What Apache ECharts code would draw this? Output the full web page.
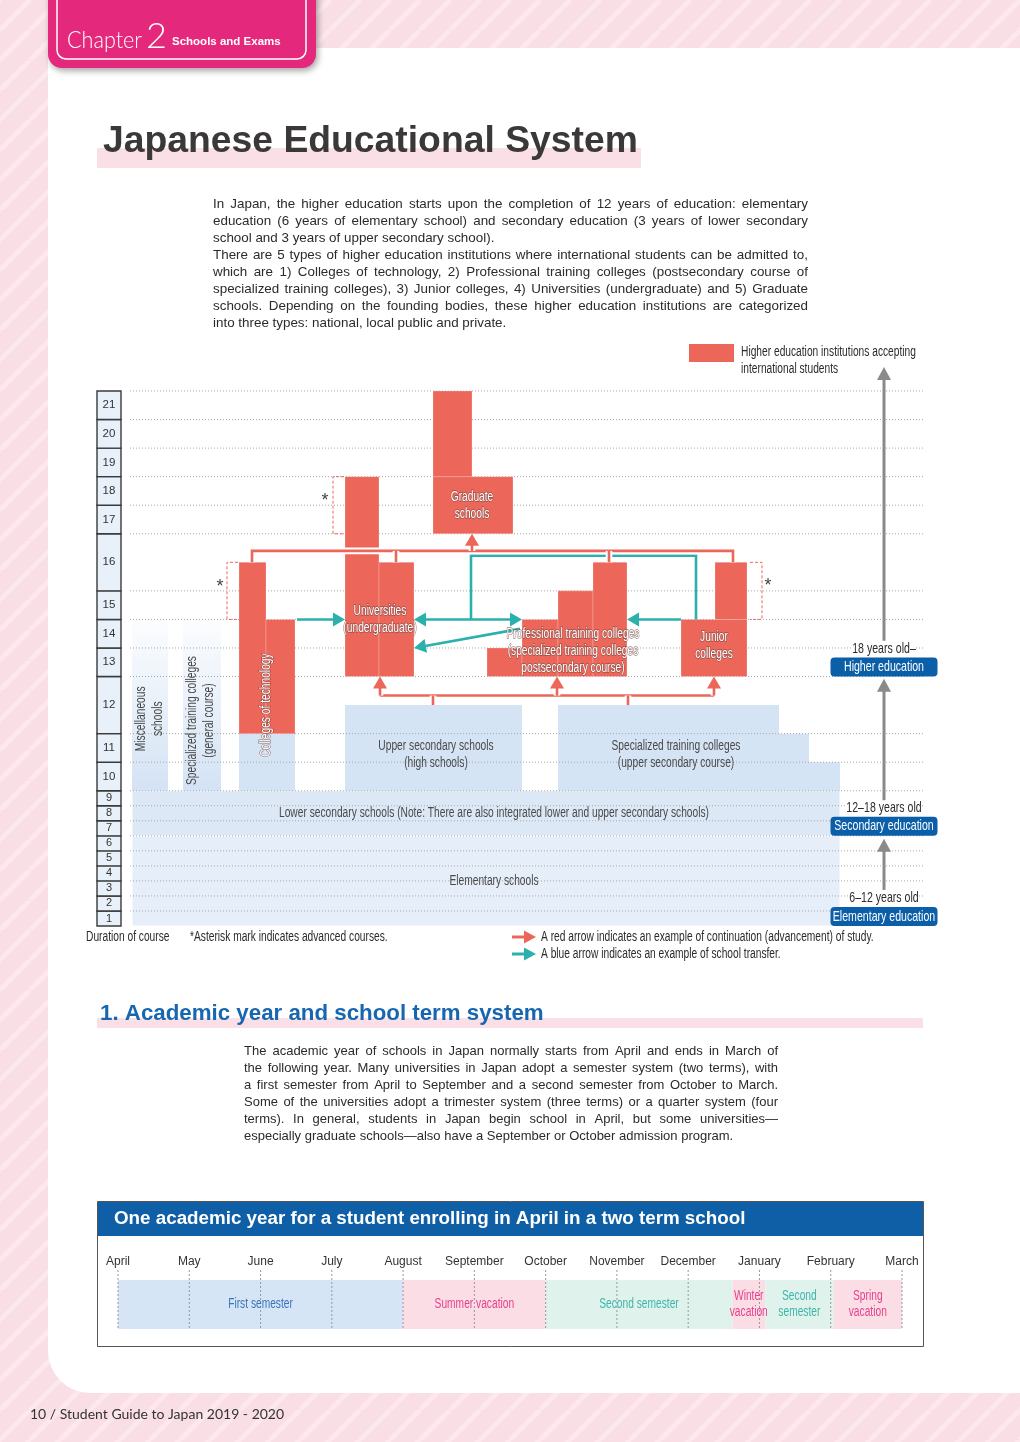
<!DOCTYPE html>
<html><head><meta charset="utf-8">
<script src="https://cdn.jsdelivr.net/npm/echarts@6/dist/echarts.min.js"></script>
<style>html,body{margin:0;padding:0;background:#fff}#c{width:1020px;height:1442px}</style>
</head><body><div id="c"></div>
<script>
// ================= DATA =================
const grades = [1,2,3,4,5,6,7,8,9,10,11,12,13,14,15,16,17,18,19,20,21];

// general schools (light blue)
const blueNames = ['Elementary schools','Lower secondary schools','Upper secondary schools',
  'Specialized training colleges (upper secondary course)','Specialized training colleges (upper secondary course)',
  'Specialized training colleges (upper secondary course)','Colleges of technology','Miscellaneous schools',
  'Specialized training colleges (general course)'];
const blueFirstYear = [1,7,10,10,10,10,10,10,10];
const blueLastYear  = [6,9,12,12,11,10,11,14,14];

// higher education institutions accepting international students (red)
const redNames = ['Colleges of technology','Colleges of technology','Universities (undergraduate)','Universities (undergraduate)',
  'Graduate schools','Graduate schools','Professional training colleges','Professional training colleges',
  'Professional training colleges','Professional training colleges','Junior colleges','Junior colleges'];
const redFirstYear = [12,12,13,13,17,19,13,13,13,13,13,15];
const redLastYear  = [16,14,18,16,18,21,13,14,15,16,14,16];

// stages (right side)
const stageNames = ['Higher education','Secondary education','Elementary education'];
const stageAges = ['18 years old–','12–18 years old','6–12 years old'];
const stageFirstYear = [13,7,1];

// academic calendar
const months = ['April','May','June','July','August','September','October','November','December','January','February','March'];
const termNames = ['First semester','Summer vacation','Second semester','Winter\nvacation','Second\nsemester','Spring\nvacation'];
const termStart = [0,4,6,8.62,9.08,10.04];
const termEnd   = [4,6,8.62,9.08,10.04,11];
const termKind  = ['s1','v','s2','v','s2','v'];

// ================= LAYOUT =================
const SANS = "'Liberation Sans',Arial,Helvetica,sans-serif";
const NARROW = SANS;
const NSIZE = 14;
const mctx = document.createElement('canvas').getContext('2d');
function measure(s, size, weight) { mctx.font = (weight||'normal') + ' ' + size + "px 'Liberation Sans'"; return mctx.measureText(s).width; }
// condensed look: horizontal squeeze so this reference string is 430px wide
const NS = 430 / measure('Lower secondary schools (Note: There are also integrated lower and upper secondary schools)', NSIZE);

const RED = '#ec6659', TEAL = '#2bb0ad';
const ROW_UNITS = g => g <= 9 ? 1 : ((g === 12 || g === 16) ? 3.8 : 1.9);
const rowBottom = {}; let acc = 0;
grades.forEach(g => { rowBottom[g] = acc; acc += ROW_UNITS(g); });
const Y_MAX = acc;
const Y = (g, f) => rowBottom[g] + f * ROW_UNITS(g);
const yTop = g => (g === 12 || g === 16) ? Y(g, 0.5) : Y(g, 1);
const yBot = g => Y(g, 0);

const blueCols = [[35,743],[35,743],[248,425],[461,682],[682,712],[712,743],[142,198],[35,71],[86,124]];
const blueFill = ['#e6eef9','#dce8f6','#d5e4f5','#d5e4f5','#d5e4f5','#d5e4f5','#d5e4f5','grad','grad'];
const redCols = [[142,169],[169,198],[248,282],[282,317],[336,416],[336,375],[390,425],[425,461],[461,496],[496,530],[584,650],[618,650]];

const blueBlocks = blueNames.map((n,i)=>({x0:blueCols[i][0],x1:blueCols[i][1],y0:yBot(blueFirstYear[i]),y1:yTop(blueLastYear[i]),fill:blueFill[i],stroke:i<2}));
const redBlocks = redNames.map((n,i)=>({x0:redCols[i][0],x1:redCols[i][1],y0:yBot(redFirstYear[i]),y1:yTop(redLastYear[i])}));

const redLines = [
  {pts:[[155,yTop(16)],[155,Y(16,.70)],[636,Y(16,.70)],[636,yTop(16)]]},
  {pts:[[299,Y(16,.70)],[299,yTop(16)]]},
  {pts:[[512,Y(16,.70)],[512,yTop(16)]]},
  {pts:[[375,Y(16,.70)],[375,Y(17,0)]],head:true},
  {pts:[[283,Y(12,.667)],[617,Y(12,.667)]]},
  {pts:[[283,Y(12,.667)],[283,Y(13,0)]],head:true},
  {pts:[[460,Y(12,.667)],[460,Y(13,0)]],head:true},
  {pts:[[617,Y(12,.667)],[617,Y(13,0)]],head:true},
  {pts:[[336,Y(12,.667)],[336,yTop(12)]]},
  {pts:[[531,Y(12,.667)],[531,yTop(12)]]}
];
const tealLines = [
  {pts:[[200,Y(15,0)],[248,Y(15,0)]],head:true},
  {pts:[[374,Y(15,0)],[374,Y(16,.614)],[599,Y(16,.614)],[599,Y(15,0)]]},
  {pts:[[374,Y(15,0)],[317,Y(15,0)]],head:true},
  {pts:[[374,Y(15,0)],[425,Y(15,0)]],head:true},
  {pts:[[584,Y(15,0)],[530,Y(15,0)]],head:true},
  {pts:[[423,Y(14,.67)],[317,Y(13,1)]],head:true}
];
const grayLines = [
  {pts:[[787,Y(14,.25)],[787,Y(21,1.84)]],head:true},
  {pts:[[787,Y(9,.33)],[787,Y(12,.96)]],head:true},
  {pts:[[787,Y(3,.4)],[787,Y(6,.8)]],head:true}
];
const brackets = [
  {pts:[[247,Y(18,1)],[236,Y(18,1)],[236,Y(17,0)],[247,Y(17,0)]], star:[228,Y(18,.3)]},
  {pts:[[141,Y(16,.5)],[130,Y(16,.5)],[130,Y(15,0)],[141,Y(15,0)]], star:[123,Y(16,.14)]},
  {pts:[[653,Y(16,.5)],[665,Y(16,.5)],[665,Y(15,0)],[653,Y(15,0)]], star:[671,Y(16,.16)]}
];
const labels = [
  {t:'Graduate\nschools',x:375,y:Y(17,1),w:1},
  {t:'Universities\n(undergraduate)',x:283,y:Y(15,0),w:1},
  {t:'Professional training colleges\n(specialized training colleges\npostsecondary course)',x:476,y:Y(13,.9),w:1},
  {t:'Junior\ncolleges',x:617,y:Y(14,.07),w:1},
  {t:'Colleges of technology',x:169,y:Y(12,.5),w:1,rot:1},
  {t:'Upper secondary schools\n(high schools)',x:339,y:Y(11,.28)},
  {t:'Specialized training colleges\n(upper secondary course)',x:579,y:Y(11,.28)},
  {t:'Lower secondary schools (Note: There are also integrated lower and upper secondary schools)',x:397,y:Y(8,.5)},
  {t:'Elementary schools',x:397,y:Y(3,1)},
  {t:'Miscellaneous\nschools',x:53,y:Y(12,.26),rot:1},
  {t:'Specialized training colleges\n(general course)',x:104,y:Y(12,.23),rot:1}
];

function arrowGroup(c, api, color, w, halo, hl, hw) {
  const pts = c.pts.map(p => api.coord(p));
  const children = [];
  let head = null;
  if (c.head) {
    const a = pts[pts.length-2], b = pts[pts.length-1];
    const dx = b[0]-a[0], dy = b[1]-a[1], L = Math.sqrt(dx*dx+dy*dy);
    const ux = dx/L, uy = dy/L;
    const bx = b[0]-ux*hl, by = b[1]-uy*hl;
    head = [[b[0],b[1]],[bx-uy*hw,by+ux*hw],[bx+uy*hw,by-ux*hw]];
    pts[pts.length-1] = [b[0]-ux*(hl-2), b[1]-uy*(hl-2)];
  }
  if (halo) children.push({type:'polyline',shape:{points:pts},style:{stroke:'#fff',lineWidth:w+4,fill:null}});
  children.push({type:'polyline',shape:{points:pts},style:{stroke:color,lineWidth:w,fill:null}});
  if (head) children.push({type:'polygon',shape:{points:head},style:{fill:color}});
  return {type:'group',children};
}
function rectOf(api, x0, x1, y0, y1) {
  const p0 = api.coord([x0, y1]), p1 = api.coord([x1, y0]);
  return {x:p0[0], y:p0[1], width:p1[0]-p0[0], height:p1[1]-p0[1]};
}

// background stripes
function stripes() {
  const c = document.createElement('canvas'); c.width = 30; c.height = 30;
  const ctx = c.getContext('2d');
  ctx.fillStyle = '#fadee5'; ctx.fillRect(0,0,30,30);
  ctx.strokeStyle = '#fce8ed'; ctx.lineWidth = 5;
  [-30,0,30].forEach(o => { ctx.beginPath(); ctx.moveTo(o,30); ctx.lineTo(o+30,0); ctx.stroke(); });
  return c;
}

function T(text, x, y, o, el) {
  return Object.assign({type:'text', x, y, z:50, style:Object.assign({text, fill:'#2b2b2b', fontSize:13, fontFamily:SANS, align:'left', verticalAlign:'middle'}, o||{})}, el||{});
}
function N(text, x, y, o) { return T(text, x, y, Object.assign({fontSize:NSIZE, fontFamily:NARROW}, o||{}), {scaleX:NS}); }
function justified(lines, x, w, y0, dy, size, last) {
  const out = [];
  lines.forEach((line,i)=>{
    const y = y0 + dy*i;
    const words = line.split(' ');
    if (last.indexOf(i) >= 0 || words.length < 2) { out.push(T(line,x,y,{fontSize:size})); return; }
    const ws = words.map(wd=>measure(wd,size));
    const gap = (w - ws.reduce((a,b)=>a+b,0)) / (words.length-1);
    let cx = x;
    words.forEach((wd,k)=>{ out.push(T(wd,cx,y,{fontSize:size})); cx += ws[k] + gap; });
  });
  return out;
}
const para1 = ['In Japan, the higher education starts upon the completion of 12 years of education: elementary',
'education (6 years of elementary school) and secondary education (3 years of lower secondary',
'school and 3 years of upper secondary school).',
'There are 5 types of higher education institutions where international students can be admitted to,',
'which are 1) Colleges of technology, 2) Professional training colleges (postsecondary course of',
'specialized training colleges), 3) Junior colleges, 4) Universities (undergraduate) and 5) Graduate',
'schools. Depending on the founding bodies, these higher education institutions are categorized',
'into three types: national, local public and private.'];
const para2 = ['The academic year of schools in Japan normally starts from April and ends in March of',
'the following year. Many universities in Japan adopt a semester system (two terms), with',
'a first semester from April to September and a second semester from October to March.',
'Some of the universities adopt a trimester system (three terms) or a quarter system (four',
'terms). In general, students in Japan begin school in April, but some universities—',
'especially graduate schools—also have a September or October admission program.'];

const graphics = [
  {type:'rect', z:-30, shape:{x:0,y:0,width:1020,height:1442}, style:{fill:{image:stripes(),repeat:'repeat'}}},
  {type:'rect', z:-29, shape:{x:48,y:48,width:972,height:1345,r:[0,0,0,42]}, style:{fill:'#fff'}},
  {type:'rect', z:-28, shape:{x:48,y:-14,width:268,height:82,r:[0,0,14,14]}, style:{fill:'#e4287b',shadowBlur:6,shadowColor:'rgba(0,0,0,0.35)',shadowOffsetX:2,shadowOffsetY:3}},
  {type:'rect', z:-27, shape:{x:57,y:-10,width:249,height:69,r:[0,0,9,9]}, style:{fill:null,stroke:'#fff',lineWidth:1.5}},
  T('Chapter',67,40,{fill:'#fff',fontSize:24,fontFamily:"Lato,'Open Sans',sans-serif",fontWeight:300},{scaleX:0.9}),
  T('2',146,36,{fill:'#fff',fontSize:36,fontFamily:"Lato,'Open Sans',sans-serif",fontWeight:300}),
  T('Schools and Exams',172,42,{fill:'#fff',fontSize:11.5,fontWeight:'bold'}),
  {type:'rect', z:-20, shape:{x:97,y:148,width:544,height:20}, style:{fill:'#fbdfe6'}},
  T('Japanese Educational System',103,142,{fill:'#3b3838',fontSize:37.3,fontWeight:'bold'}),
  ...justified(para1, 213, 595, 204, 17, 13.4, [2,7]),
  {type:'rect', z:5, shape:{x:689,y:344,width:45,height:18}, style:{fill:RED}},
  N('Higher education institutions accepting',741,352),
  N('international students',741,369),
  N('Duration of course',86,937),
  N('*Asterisk mark indicates advanced courses.',190,937),
  {type:'polyline', z:5, shape:{points:[[512,937],[526,937]]}, style:{stroke:RED,lineWidth:3}},
  {type:'polygon', z:5, shape:{points:[[536,937],[524,930.5],[524,943.5]]}, style:{fill:RED}},
  N('A red arrow indicates an example of continuation (advancement) of study.',541,937),
  {type:'polyline', z:5, shape:{points:[[512,954],[526,954]]}, style:{stroke:TEAL,lineWidth:3}},
  {type:'polygon', z:5, shape:{points:[[536,954],[524,947.5],[524,960.5]]}, style:{fill:TEAL}},
  N('A blue arrow indicates an example of school transfer.',541,954),
  {type:'rect', z:-20, shape:{x:97,y:1018,width:826,height:10}, style:{fill:'#fbdfe6'}},
  T('1. Academic year and school term system',100,1014,{fill:'#1766b1',fontSize:22.3,fontWeight:'bold'}),
  ...justified(para2, 244, 534, 1051, 17, 13, [5]),
  {type:'rect', z:-10, shape:{x:97.5,y:1201.5,width:826,height:145}, style:{fill:'#fff',stroke:'#555',lineWidth:1}},
  {type:'rect', z:-9, shape:{x:98,y:1202,width:825,height:34}, style:{fill:'#0e5fa6'}},
  T('One academic year for a student enrolling in April in a two term school',114,1219,{fill:'#fff',fontSize:18.8,fontWeight:'bold'}),
  T('10 / Student Guide to Japan 2019 - 2020',30,1414,{fontSize:14,fontFamily:"Lato,'Open Sans',sans-serif",fill:'#333'})
];

const chart = echarts.init(document.getElementById('c'), null, {renderer:'canvas'});
const hidden = {show:false};
const option = {
  animation:false,
  backgroundColor:'#fff',
  graphic: graphics,
  grid:[
    {left:97, top:391, width:828, height:535},
    {left:118, right:118, top:1270, height:60}
  ],
  xAxis:[
    {type:'value', gridIndex:0, min:0, max:828, show:false},
    {type:'value', gridIndex:1, min:0, max:11, interval:1, position:'top',
     axisLine:hidden, axisTick:hidden, splitLine:hidden,
     axisLabel:{show:true, margin:2, formatter:v=>months[v], color:'#333', fontSize:12, fontFamily:SANS, showMinLabel:true, showMaxLabel:true}}
  ],
  yAxis:[
    {type:'value', gridIndex:0, min:0, max:Y_MAX, show:false},
    {type:'value', gridIndex:1, min:0, max:1, show:false}
  ],
  series:[
    { // general schools
      type:'custom', name:'General schools', xAxisIndex:0, yAxisIndex:0, z:2,
      data: blueBlocks.map(b=>[b.x0,b.x1,b.y0,b.y1]), encode:{x:[0,1],y:[2,3]},
      renderItem:(p,api)=>{
        const b = blueBlocks[p.dataIndex];
        const fill = b.fill === 'grad' ? new echarts.graphic.LinearGradient(0,0,0,1,[{offset:0,color:'rgba(214,228,245,0.08)'},{offset:1,color:'#d3e2f4'}]) : b.fill;
        return {type:'rect', shape:rectOf(api,b.x0,b.x1,b.y0,b.y1), style:{fill, stroke:b.stroke?'#fff':null, lineWidth:1}};
      }
    },
    { // row grid lines
      type:'custom', name:'rows', xAxisIndex:0, yAxisIndex:0, z:3,
      data: grades.map(g=>[33,Y(g,1)]),
      renderItem:(p,api)=>{
        const a = api.coord([33, api.value(1)]), b = api.coord([828, api.value(1)]);
        return {type:'line', shape:{x1:a[0],y1:a[1],x2:b[0],y2:b[1]}, style:{stroke:'#a8a8a8',lineWidth:1,lineDash:[1,2]}};
      }
    },
    { // higher education institutions
      type:'custom', name:'Higher education institutions accepting international students', xAxisIndex:0, yAxisIndex:0, z:4,
      data: redBlocks.map(b=>[b.x0,b.x1,b.y0,b.y1]), encode:{x:[0,1],y:[2,3]},
      renderItem:(p,api)=>{
        const b = redBlocks[p.dataIndex];
        return {type:'rect', shape:rectOf(api,b.x0,b.x1,b.y0,b.y1), style:{fill:RED, stroke:'rgba(255,255,255,0.22)', lineWidth:1}};
      }
    },
    { // teal transfer arrows
      type:'custom', name:'transfer', xAxisIndex:0, yAxisIndex:0, z:5,
      data: tealLines.map(c=>c.pts[0]),
      renderItem:(p,api)=>arrowGroup(tealLines[p.dataIndex], api, TEAL, 2.6, false, 12, 7)
    },
    { // red continuation arrows
      type:'custom', name:'continuation', xAxisIndex:0, yAxisIndex:0, z:6,
      data: redLines.map(c=>c.pts[0]),
      renderItem:(p,api)=>arrowGroup(redLines[p.dataIndex], api, RED, 2.6, true, 12, 7)
    },
    { // advanced course brackets
      type:'custom', name:'advanced', xAxisIndex:0, yAxisIndex:0, z:6,
      data: brackets.map(c=>c.pts[0]),
      renderItem:(p,api)=>{
        const c = brackets[p.dataIndex];
        const s = api.coord(c.star);
        return {type:'group', children:[
          {type:'polyline', shape:{points:c.pts.map(q=>api.coord(q))}, style:{stroke:RED,lineWidth:1,lineDash:[3,2],fill:null}},
          {type:'text', x:s[0], y:s[1]+4, style:{text:'*', fill:'#444', fontSize:18, fontFamily:SANS, align:'center', verticalAlign:'middle'}}
        ]};
      }
    },
    { // labels
      type:'custom', name:'labels', xAxisIndex:0, yAxisIndex:0, z:8,
      data: labels.map(l=>[l.x,l.y]),
      renderItem:(p,api)=>{
        const l = labels[p.dataIndex];
        const c = api.coord([l.x,l.y]);
        return {type:'text', x:c[0], y:c[1], rotation:l.rot?Math.PI/2:0, scaleX:NS,
          style:{text:l.t, fill:l.w?'#fff':'#4a4a4a', stroke:l.w?'rgba(110,70,66,0.7)':null, lineWidth:l.w?1.3:0,
            fontSize:NSIZE, lineHeight:17, fontFamily:NARROW, align:'center', verticalAlign:'middle'}};
      }
    },
    { // duration of course column
      type:'custom', name:'Duration of course', xAxisIndex:0, yAxisIndex:0, z:7,
      data: grades.map(g=>[0,24,yBot(g),Y(g,1)]), encode:{x:[0,1],y:[2,3]},
      renderItem:(p,api)=>{
        const g = grades[p.dataIndex];
        const r = rectOf(api,0,24,yBot(g),Y(g,1));
        return {type:'group', children:[
          {type:'rect', shape:r, style:{fill:'#e8f0f9', stroke:'#3a3a3a', lineWidth:1.4}},
          {type:'text', x:r.x+r.width/2, y:r.y+r.height/2, style:{text:String(g), fill:'#333', fontSize:g<=9?11:11.5, fontFamily:SANS, align:'center', verticalAlign:'middle'}}
        ]};
      }
    },
    { // stage scale on the right
      type:'custom', name:'stages', xAxisIndex:0, yAxisIndex:0, z:7,
      data: stageNames.map((n,i)=>[787,yBot(stageFirstYear[i])]),
      renderItem:(p,api)=>{
        const i = p.dataIndex;
        const c = api.coord([787, yBot(stageFirstYear[i])]);
        const g = arrowGroup(grayLines[i], api, '#8a8a8a', 3, false, 13, 7);
        g.children.push(
          {type:'rect', shape:{x:c[0]-53.5, y:c[1]-19, width:107, height:19, r:4}, style:{fill:'#0b5ea8'}},
          {type:'text', x:c[0], y:c[1]-9.5, scaleX:NS, style:{text:stageNames[i], fill:'#fff', fontSize:14.5, fontFamily:NARROW, align:'center', verticalAlign:'middle'}},
          {type:'text', x:c[0], y:c[1]-28, scaleX:NS, style:{text:stageAges[i], fill:'#2b2b2b', fontSize:14.5, fontFamily:NARROW, align:'center', verticalAlign:'middle', backgroundColor:'#fff'}}
        );
        return g;
      }
    },
    { // calendar terms (bands)
      type:'custom', name:'terms', xAxisIndex:1, yAxisIndex:1, z:2,
      data: termNames.map((n,i)=>[termStart[i],termEnd[i]]), encode:{x:[0,1]},
      renderItem:(p,api)=>{
        const i = p.dataIndex;
        const fill = {s1:'#d6e5f6', v:'#fbdde6', s2:'#e0f2ec'}[termKind[i]];
        return {type:'rect', shape:rectOf(api, termStart[i], termEnd[i], 0.017, 0.833), style:{fill}};
      }
    },
    { // month ticks
      type:'custom', name:'months', xAxisIndex:1, yAxisIndex:1, z:3,
      data: months.map((m,i)=>[i,0]),
      renderItem:(p,api)=>{
        const a = api.coord([api.value(0),1]), b = api.coord([api.value(0),0]);
        return {type:'line', shape:{x1:a[0],y1:a[1],x2:b[0],y2:b[1]}, style:{stroke:'#999',lineWidth:1,lineDash:[2,2]}};
      }
    },
    { // calendar term labels (drawn above all bands)
      type:'custom', name:'term labels', xAxisIndex:1, yAxisIndex:1, z:4,
      data: termNames.map((n,i)=>[termStart[i],termEnd[i]]), encode:{x:[0,1]},
      renderItem:(p,api)=>{
        const i = p.dataIndex;
        const col = {s1:'#3a74b8', v:'#e6418d', s2:'#3db6a9'}[termKind[i]];
        const r = rectOf(api, termStart[i], termEnd[i], 0.017, 0.833);
        return {type:'text', x:r.x+r.width/2, y:r.y+r.height/2, scaleX:NS, style:{text:termNames[i], fill:col, fontSize:NSIZE, lineHeight:16, fontFamily:NARROW, align:'center', verticalAlign:'middle'}};
      }
    }
  ]
};
chart.setOption(option);
</script></body></html>
